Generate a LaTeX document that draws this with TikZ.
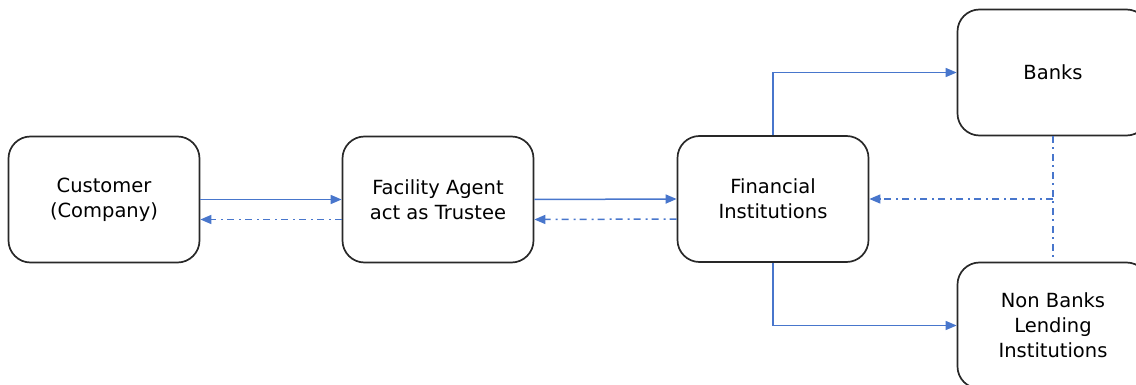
\documentclass[tikz,border=0pt]{standalone}
\usepackage{fontspec}
\setmainfont{DejaVu Sans}
\usetikzlibrary{arrows.meta}
\definecolor{linkblue}{RGB}{72,118,204}
\definecolor{boxline}{RGB}{40,40,40}
\tikzset{
  entity/.style={draw=boxline, line width=1.7pt, rounded corners=22pt,
    minimum width=191pt, minimum height=126pt, align=center, inner sep=0pt,
    font=\fontsize{19.5pt}{25pt}\selectfont},
  flow/.style={draw=linkblue, line width=1.5pt, -{Triangle[length=11pt,width=9pt]}},
  reply/.style={draw=linkblue, line width=1.5pt,
    dash pattern=on 7pt off 4pt on 2pt off 5pt},
  replyarrow/.style={reply, -{Triangle[length=11pt,width=9pt]}}
}
\begin{document}
\begin{tikzpicture}[x=1pt,y=-1pt]
\useasboundingbox (0,0) rectangle (1136,385);
\node[entity] (cust) at (104,199.5) {Customer\\(Company)};
\node[entity] (fac) at (438,199.5) {Facility Agent\\act as Trustee};
\node[entity] (fin) at (773,199) {Financial\\Institutions};
\node[entity] (banks) at (1053,72.5) {Banks};
\node[entity] (nbl) at (1053,325.5) {Non Banks\\Lending\\Institutions};
% forward flows
\draw[flow] (cust.east) -- (fac.west);
\draw[flow] (fac.east) -- (fin.west);
\draw[flow] (fin.north) |- (banks.west);
\draw[flow] (fin.south) |- (nbl.west);
% return flows
\draw[replyarrow] ([yshift=-20pt]fac.west) -- ([yshift=-20pt]cust.east);
\draw[replyarrow] ([yshift=-20pt]fin.west) -- ([yshift=-20pt]fac.east);
\draw[reply] (banks.south) -- (nbl.north);
\coordinate (join) at (banks.south |- fin.east);
\draw[replyarrow] (join) -- (fin.east);
\end{tikzpicture}
\end{document}
